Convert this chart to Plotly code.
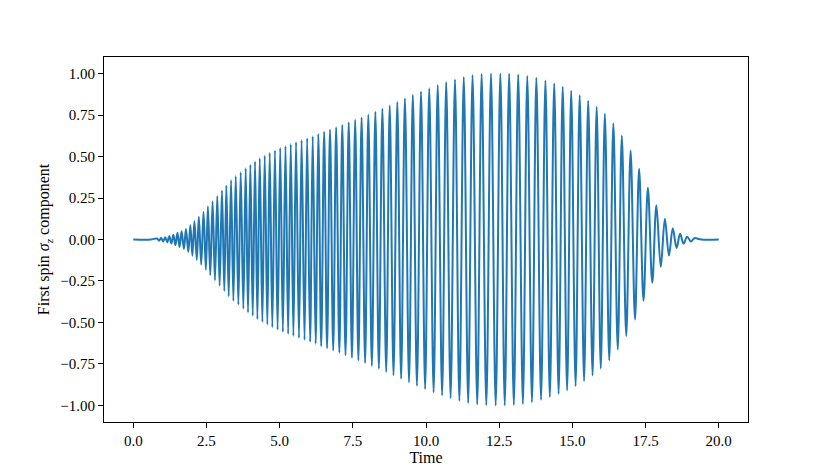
import plotly.graph_objects as go

# maxima of the first-spin sigma_z trace (time, value)
peak_t = [0.81, 0.95, 1.09, 1.23, 1.37, 1.51, 1.65, 1.80, 1.95, 2.09,
          2.24, 2.40, 2.55, 2.71, 2.87, 3.03, 3.18, 3.34, 3.50, 3.67,
          3.84, 4.00, 4.16, 4.32, 4.49, 4.66, 4.84, 5.02, 5.20, 5.38,
          5.56, 5.75, 5.94, 6.13, 6.32, 6.52, 6.72, 6.93, 7.14, 7.36,
          7.58, 7.80, 8.03, 8.27, 8.51, 8.76, 9.02, 9.28, 9.55, 9.83,
          10.11, 10.40, 10.69, 10.99, 11.29, 11.59, 11.90, 12.22, 12.54, 12.84,
          13.15, 13.46, 13.77, 14.08, 14.38, 14.67, 14.96, 15.25, 15.54, 15.83,
          16.11, 16.40, 16.69, 16.99, 17.28, 17.58, 17.87, 18.16, 18.43, 18.68,
          18.92, 19.17]
peak_v = [0.006, 0.010, 0.014, 0.020, 0.028, 0.040, 0.050, 0.064, 0.086, 0.110,
          0.137, 0.167, 0.200, 0.230, 0.262, 0.296, 0.326, 0.358, 0.382, 0.406,
          0.430, 0.450, 0.470, 0.489, 0.505, 0.521, 0.537, 0.551, 0.563, 0.575,
          0.587, 0.599, 0.611, 0.622, 0.636, 0.650, 0.662, 0.676, 0.690, 0.705,
          0.720, 0.736, 0.753, 0.770, 0.788, 0.807, 0.829, 0.850, 0.872, 0.892,
          0.911, 0.931, 0.949, 0.965, 0.980, 0.991, 0.998, 1.000, 1.000, 0.999,
          0.995, 0.986, 0.975, 0.959, 0.941, 0.921, 0.897, 0.870, 0.837, 0.800,
          0.758, 0.700, 0.626, 0.537, 0.426, 0.312, 0.207, 0.125, 0.068, 0.034,
          0.016, 0.008]

# minima of the trace
trough_t = [0.88, 1.02, 1.16, 1.30, 1.44, 1.58, 1.73, 1.88, 2.02, 2.17,
            2.32, 2.48, 2.63, 2.79, 2.95, 3.11, 3.26, 3.42, 3.59, 3.76,
            3.92, 4.08, 4.24, 4.41, 4.58, 4.75, 4.93, 5.11, 5.29, 5.47,
            5.66, 5.85, 6.04, 6.23, 6.42, 6.62, 6.83, 7.04, 7.25, 7.47,
            7.69, 7.92, 8.15, 8.39, 8.64, 8.89, 9.15, 9.42, 9.69, 9.97,
            10.26, 10.55, 10.84, 11.14, 11.44, 11.75, 12.06, 12.38, 12.69, 13.00,
            13.31, 13.62, 13.93, 14.23, 14.53, 14.82, 15.11, 15.40, 15.69, 15.97,
            16.26, 16.55, 16.84, 17.14, 17.43, 17.73, 18.02, 18.30, 18.56, 18.80,
            19.05]
trough_v = [-0.008, -0.012, -0.017, -0.024, -0.034, -0.045, -0.057, -0.075, -0.098, -0.123,
            -0.152, -0.183, -0.215, -0.246, -0.279, -0.311, -0.342, -0.370, -0.394, -0.418,
            -0.440, -0.460, -0.480, -0.497, -0.513, -0.529, -0.544, -0.557, -0.569, -0.581,
            -0.593, -0.605, -0.617, -0.629, -0.643, -0.656, -0.669, -0.683, -0.698, -0.713,
            -0.728, -0.745, -0.762, -0.779, -0.798, -0.818, -0.840, -0.861, -0.882, -0.902,
            -0.921, -0.940, -0.957, -0.973, -0.986, -0.995, -0.999, -1.000, -1.000, -0.997,
            -0.991, -0.981, -0.967, -0.950, -0.931, -0.909, -0.884, -0.854, -0.819, -0.779,
            -0.729, -0.663, -0.582, -0.482, -0.369, -0.260, -0.166, -0.097, -0.051, -0.025,
            -0.012]

# flat parts before and after the oscillation
flat_t = [0.0, 0.6, 19.4, 20.0]
flat_v = [0.0, 0.0, 0.0, 0.0]

x_ticks = [0.0, 2.5, 5.0, 7.5, 10.0, 12.5, 15.0, 17.5, 20.0]
y_ticks = [-1.0, -0.75, -0.5, -0.25, 0.0, 0.25, 0.5, 0.75, 1.0]

pts = sorted(zip(peak_t + trough_t + flat_t, peak_v + trough_v + flat_v))
t = [p[0] for p in pts]
v = [p[1] for p in pts]

FONT = "Liberation Serif, DejaVu Serif, serif"

fig = go.Figure()
fig.add_trace(go.Scatter(
    x=t,
    y=v,
    mode="lines",
    line=dict(color="#1f77b4", width=2, shape="spline", smoothing=1.0),
    hoverinfo="skip",
))

# the page body adds 8px on the left/top, margins compensate for it
fig.update_layout(
    width=831,
    height=475,
    margin=dict(l=96, r=91, t=49, b=61),
    paper_bgcolor="white",
    plot_bgcolor="white",
    showlegend=False,
    font=dict(family=FONT, size=15, color="black"),
)
axis_common = dict(
    showgrid=False,
    zeroline=False,
    showline=True,
    mirror=True,
    linecolor="black",
    linewidth=1,
    ticks="outside",
    ticklen=5,
    tickwidth=1,
    tickcolor="black",
    tickfont=dict(family=FONT, size=15, color="black"),
)
fig.update_xaxes(
    range=[-1.0, 21.0],
    tickvals=x_ticks,
    tickformat=".1f",
    title=dict(text="Time", standoff=0, font=dict(family=FONT, size=16)),
    **axis_common,
)
fig.update_yaxes(
    range=[-1.1, 1.1],
    tickvals=y_ticks,
    tickformat=".2f",
    title=dict(text="First spin <i>σ</i><sub><i>z</i></sub> component", standoff=6,
               font=dict(family=FONT, size=16)),
    **axis_common,
)

fig.write_html("out.html")
